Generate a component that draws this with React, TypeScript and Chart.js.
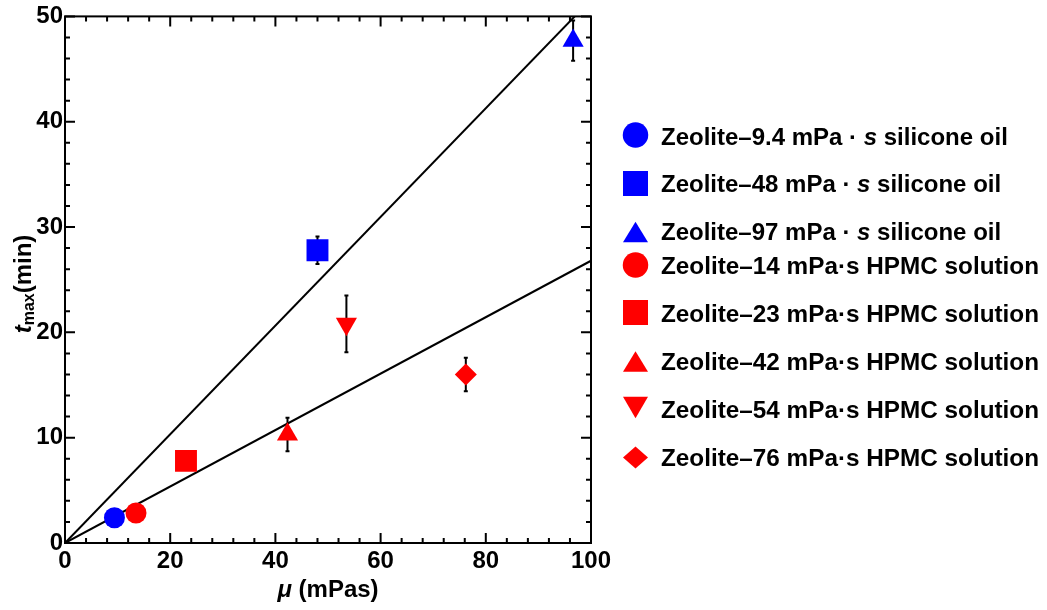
import React, { useEffect, useRef } from "react";
import { Chart, registerables } from "chart.js";

Chart.register(...registerables);

// ---------------- data ----------------
const seriesLabels = [
  "Zeolite–9.4 mPa · s silicone oil",
  "Zeolite–48 mPa · s silicone oil",
  "Zeolite–97 mPa · s silicone oil",
  "Zeolite–14 mPa·s HPMC solution",
  "Zeolite–23 mPa·s HPMC solution",
  "Zeolite–42 mPa·s HPMC solution",
  "Zeolite–54 mPa·s HPMC solution",
  "Zeolite–76 mPa·s HPMC solution",
];
const muValues = [9.4, 48, 96.6, 13.5, 23, 42.3, 53.5, 76.2];
const tmaxValues = [2.4, 27.8, 47.7, 2.85, 7.8, 10.3, 20.8, 16.0];
const tmaxErrors = [0, 1.3, 1.9, 0, 0, 1.6, 2.7, 1.6];
const seriesColors = ["#0000ff", "#0000ff", "#0000ff", "#ff0000", "#ff0000", "#ff0000", "#ff0000", "#ff0000"];
const seriesShapes = ["circle", "rect", "triangle", "circle", "rect", "triangle", "triangleDown", "rectRot"];

const fitSlopes = [0.516, 0.268];
const fitRange = [0, 100];

const xTickStep = 20;
const xMinorStep = 4;
const yTickStep = 10;
const yMinorStep = 2;
const xRange = [0, 100];
const yRange = [0, 50];

// ---------------- styles ----------------
const FONT = '"Liberation Sans", Arial, sans-serif';
const markerRadius: Record<string, number> = {
  circle: 10.5,
  rect: 15.5,
  triangle: 12.2,
  triangleDown: 12.2,
  rectRot: 11,
};
const legendX = 635.5;
const legendTextX = 661;
const legendMarkerY = [135, 183.5, 232, 265, 312.5, 361.5, 407.5, 457.5];
const legendBaselineY = [145, 192, 240, 273.5, 321.5, 370, 418, 465.5];

function drawShape(ctx: CanvasRenderingContext2D, shape: string, x: number, y: number, w: number, h: number, color: string) {
  ctx.save();
  ctx.fillStyle = color;
  ctx.beginPath();
  if (shape === "circle") {
    ctx.arc(x, y, w / 2, 0, Math.PI * 2);
  } else if (shape === "rect") {
    ctx.rect(x - w / 2, y - h / 2, w, h);
  } else if (shape === "triangle") {
    ctx.moveTo(x, y - h / 2);
    ctx.lineTo(x + w / 2, y + h / 2);
    ctx.lineTo(x - w / 2, y + h / 2);
    ctx.closePath();
  } else if (shape === "triangleDown") {
    ctx.moveTo(x, y + h / 2);
    ctx.lineTo(x + w / 2, y - h / 2);
    ctx.lineTo(x - w / 2, y - h / 2);
    ctx.closePath();
  } else {
    ctx.moveTo(x, y - h / 2);
    ctx.lineTo(x + w / 2, y);
    ctx.lineTo(x, y + h / 2);
    ctx.lineTo(x - w / 2, y);
    ctx.closePath();
  }
  ctx.fill();
  ctx.restore();
}

function drawSegments(ctx: CanvasRenderingContext2D, segs: { text: string; font: string; dy?: number }[], x: number, y: number) {
  let cx = x;
  for (const s of segs) {
    ctx.font = s.font;
    ctx.fillText(s.text, cx, y + (s.dy || 0));
    cx += ctx.measureText(s.text).width;
  }
  return cx - x;
}

function measureSegments(ctx: CanvasRenderingContext2D, segs: { text: string; font: string }[]) {
  let w = 0;
  for (const s of segs) {
    ctx.font = s.font;
    w += ctx.measureText(s.text).width;
  }
  return w;
}

const errorBarPlugin = {
  id: "errorBars",
  beforeDatasetsDraw(chart: any) {
    const ctx = chart.ctx as CanvasRenderingContext2D;
    const xs = chart.scales.x;
    const ys = chart.scales.y;
    ctx.save();
    ctx.strokeStyle = "#000";
    ctx.lineWidth = 2;
    muValues.forEach((mu, i) => {
      const e = tmaxErrors[i];
      if (!e) return;
      const px = xs.getPixelForValue(mu);
      const y1 = ys.getPixelForValue(tmaxValues[i] + e);
      const y2 = ys.getPixelForValue(tmaxValues[i] - e);
      ctx.beginPath();
      ctx.moveTo(px, y1);
      ctx.lineTo(px, y2);
      ctx.moveTo(px - 2, y1);
      ctx.lineTo(px + 2, y1);
      ctx.moveTo(px - 2, y2);
      ctx.lineTo(px + 2, y2);
      ctx.stroke();
    });
    ctx.restore();
  },
};

const framePlugin = {
  id: "frameTicks",
  afterDatasetsDraw(chart: any) {
    const ctx = chart.ctx as CanvasRenderingContext2D;
    const { left, right, top, bottom } = chart.chartArea;
    const xs = chart.scales.x;
    const ys = chart.scales.y;
    ctx.save();
    ctx.strokeStyle = "#000";
    ctx.lineWidth = 2;
    ctx.beginPath();
    for (let v = xRange[0]; v <= xRange[1] + 1e-9; v += xMinorStep) {
      const px = xs.getPixelForValue(v);
      const len = Math.abs(v % xTickStep) < 1e-9 ? 10 : 5;
      ctx.moveTo(px, bottom);
      ctx.lineTo(px, bottom - len);
      ctx.moveTo(px, top);
      ctx.lineTo(px, top + len);
    }
    for (let v = yRange[0]; v <= yRange[1] + 1e-9; v += yMinorStep) {
      const py = ys.getPixelForValue(v);
      const len = Math.abs(v % yTickStep) < 1e-9 ? 10 : 5;
      ctx.moveTo(left, py);
      ctx.lineTo(left + len, py);
      ctx.moveTo(right, py);
      ctx.lineTo(right - len, py);
    }
    ctx.stroke();
    ctx.lineWidth = 2;
    ctx.strokeRect(left, top, right - left, bottom - top);
    ctx.restore();
  },
  afterDraw(chart: any) {
    const ctx = chart.ctx as CanvasRenderingContext2D;
    const { left, right } = chart.chartArea;
    ctx.save();
    ctx.fillStyle = "#000";
    ctx.textBaseline = "alphabetic";
    ctx.textAlign = "left";

    // x title
    const xSegs = [
      { text: "μ", font: `italic bold 24px ${FONT}` },
      { text: " (mPas)", font: `bold 24px ${FONT}` },
    ];
    const xw = measureSegments(ctx, xSegs);
    drawSegments(ctx, xSegs, (left + right) / 2 - xw / 2, 597);

    // y title
    const ySegs = [
      { text: "t", font: `italic bold 24px ${FONT}` },
      { text: "max", font: `bold 16px ${FONT}`, dy: 3 },
      { text: "(min)", font: `bold 24px ${FONT}` },
    ];
    const yw = measureSegments(ctx, ySegs);
    ctx.save();
    ctx.translate(31, 284);
    ctx.rotate(-Math.PI / 2);
    drawSegments(ctx, ySegs, -yw / 2, 0);
    ctx.restore();

    // legend
    const legendSizes: Record<string, [number, number]> = {
      circle: [25.5, 25.5],
      rect: [25, 25],
      triangle: [25, 20.5],
      triangleDown: [25, 21.5],
      rectRot: [25, 22],
    };
    seriesLabels.forEach((lab, i) => {
      const [w, h] = legendSizes[seriesShapes[i]];
      drawShape(ctx, seriesShapes[i], legendX, legendMarkerY[i], w, h, seriesColors[i]);
      const idx = lab.indexOf(" · s ");
      let segs;
      if (idx >= 0) {
        segs = [
          { text: lab.slice(0, idx + 3), font: `bold 24px ${FONT}` },
          { text: "s", font: `italic bold 24px ${FONT}` },
          { text: lab.slice(idx + 4), font: `bold 24px ${FONT}` },
        ];
      } else {
        segs = [{ text: lab, font: `bold 24.3px ${FONT}` }];
      }
      ctx.fillStyle = "#000";
      drawSegments(ctx, segs, legendTextX, legendBaselineY[i]);
    });
    ctx.restore();
  },
};

export default function App() {
  const canvasRef = useRef<HTMLCanvasElement | null>(null);

  useEffect(() => {
    const canvas = canvasRef.current;
    if (!canvas) return;

    const pointDatasets = seriesLabels.map((label, i) => ({
      type: "scatter" as const,
      label,
      data: [{ x: muValues[i], y: tmaxValues[i] }],
      pointStyle: seriesShapes[i] === "triangleDown" ? "triangle" : seriesShapes[i],
      rotation: seriesShapes[i] === "triangleDown" ? 180 : 0,
      pointRadius: markerRadius[seriesShapes[i]],
      pointBackgroundColor: seriesColors[i],
      pointBorderColor: seriesColors[i],
      pointBorderWidth: 0,
      order: 1,
    }));

    const fitDatasets = fitSlopes.map((k, i) => ({
      type: "line" as const,
      label: `fit${i}`,
      data: fitRange.map((x) => ({ x, y: k * x })),
      borderColor: "#000",
      borderWidth: 2,
      pointRadius: 0,
      fill: false,
      order: 10,
    }));

    const tickFont = { family: FONT, size: 24, weight: "bold" as const };

    const chart = new Chart(canvas, {
      type: "scatter",
      data: { datasets: [...pointDatasets, ...fitDatasets] as any },
      options: {
        responsive: false,
        animation: false,
        devicePixelRatio: 1,
        layout: { padding: { left: 0, top: 16, right: 456, bottom: 0 } },
        plugins: {
          legend: { display: false },
          tooltip: { enabled: false },
        },
        scales: {
          x: {
            type: "linear",
            min: xRange[0],
            max: xRange[1],
            grid: { display: false, drawTicks: false, tickLength: 0 },
            border: { display: false },
            ticks: {
              stepSize: xTickStep,
              font: tickFont,
              color: "#000",
              padding: 4,
              maxRotation: 0,
              autoSkip: false,
            },
            afterFit(scale: any) {
              scale.height = 67;
            },
          },
          y: {
            type: "linear",
            min: yRange[0],
            max: yRange[1],
            grid: { display: false, drawTicks: false, tickLength: 0 },
            border: { display: false },
            ticks: {
              stepSize: yTickStep,
              font: tickFont,
              color: "#000",
              padding: 2,
              autoSkip: false,
            },
            afterFit(scale: any) {
              scale.width = 65;
            },
          },
        },
      },
      plugins: [errorBarPlugin, framePlugin],
    } as any);

    return () => chart.destroy();
  }, []);

  return (
    <div style={{ position: "absolute", left: 0, top: 0, width: 1047, height: 610, background: "#fff" }}>
      <canvas ref={canvasRef} width={1047} height={610} style={{ width: 1047, height: 610 }} />
    </div>
  );
}
